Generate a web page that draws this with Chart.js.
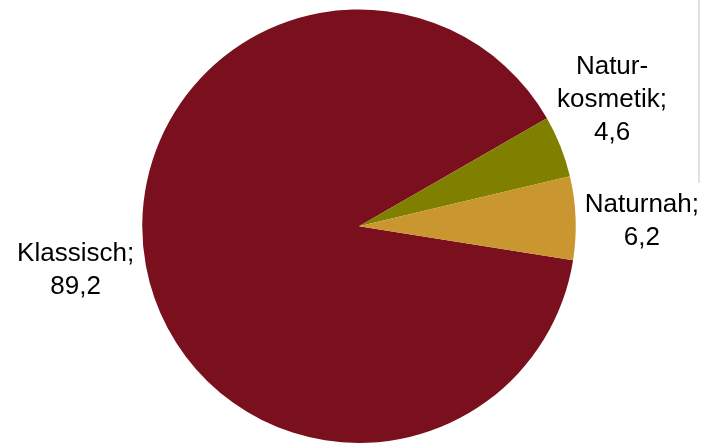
<!DOCTYPE html>
<html>
<head>
<meta charset="utf-8">
<script src="https://cdn.jsdelivr.net/npm/chart.js@4/dist/chart.umd.min.js"></script>
<style>
html,body{margin:0;padding:0;background:#fff;}
#wrap{width:702px;height:443px;position:relative;}
</style>
</head>
<body>
<div id="wrap"><canvas id="c" width="702" height="443"></canvas></div>
<script>
const categories = ["Klassisch", "Naturkosmetik", "Naturnah"];
const labelLines = [["Klassisch;", "89,2"], ["Natur-", "kosmetik;", "4,6"], ["Naturnah;", "6,2"]];
const values = [89.2, 4.6, 6.2];
const colors = ["#7A101E", "#808000", "#CA962F"];
// label placement: factor of radius along mid-angle plus nudges (px)
const labelFactor = 1.32;
const labelNudge = [[-2, -10], [-13, -22.5], [-3, 4.5]];

const labelPlugin = {
  id: 'outerLabels',
  afterDraw(chart) {
    const ctx = chart.ctx;
    const meta = chart.getDatasetMeta(0);
    ctx.save();
    ctx.font = '26px "Liberation Sans", Arial, sans-serif';
    ctx.fillStyle = '#000';
    ctx.textAlign = 'center';
    ctx.textBaseline = 'alphabetic';
    const lh = 33;
    meta.data.forEach((arc, i) => {
      const p = arc.getProps(['x','y','startAngle','endAngle','outerRadius'], true);
      const mid = (p.startAngle + p.endAngle) / 2;
      const cx = p.x + Math.cos(mid) * p.outerRadius * labelFactor + labelNudge[i][0];
      const cy = p.y + Math.sin(mid) * p.outerRadius * labelFactor + labelNudge[i][1];
      const lines = labelLines[i];
      const y0 = cy - (lines.length - 1) * lh / 2 + 9;
      lines.forEach((t, k) => ctx.fillText(t, cx, y0 + k * lh));
    });
    ctx.restore();
  }
};

const framePlugin = {
  id: 'frameLine',
  beforeDraw(chart) {
    const ctx = chart.ctx;
    ctx.save();
    ctx.fillStyle = '#fff';
    ctx.fillRect(0, 0, chart.width, chart.height);
    ctx.fillStyle = '#e2e2e2';
    ctx.fillRect(698, 0, 2, 183);
    ctx.restore();
  }
};

new Chart(document.getElementById('c'), {
  type: 'pie',
  data: {
    labels: categories,
    datasets: [{
      data: values,
      backgroundColor: colors,
      borderWidth: 0
    }]
  },
  options: {
    responsive: false,
    animation: false,
    rotation: 99,
    layout: { padding: { left: 142, right: 126, top: 9.5, bottom: 0 } },
    plugins: {
      legend: { display: false },
      tooltip: { enabled: false },
      title: { display: false }
    }
  },
  plugins: [framePlugin, labelPlugin]
});
</script>
</body>
</html>
